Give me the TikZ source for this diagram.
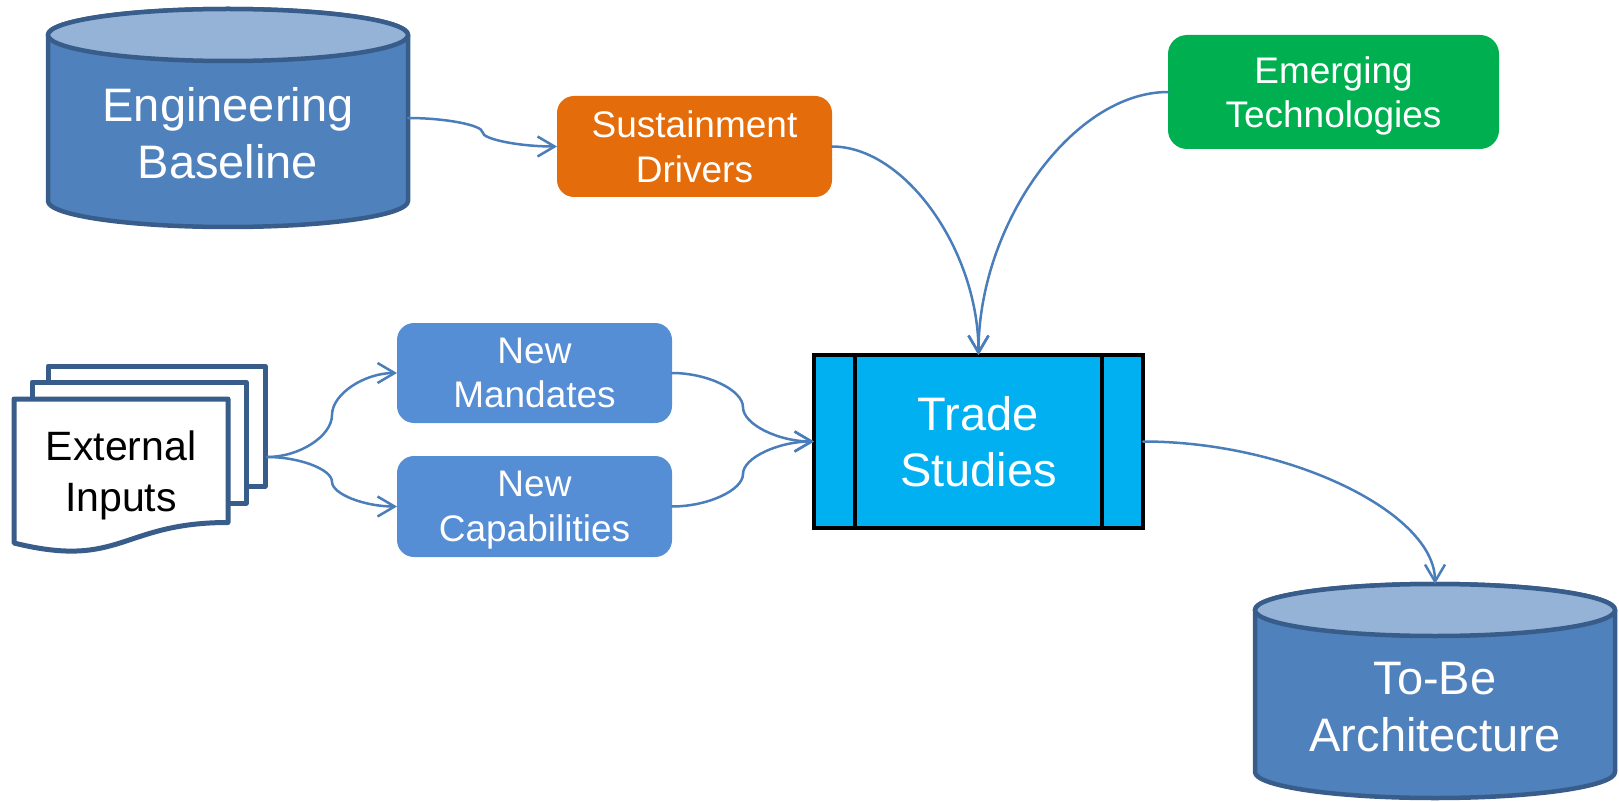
\documentclass[tikz,border=0pt]{standalone}
\usepackage{fontspec}
\setmainfont{Liberation Sans}
\usetikzlibrary{arrows.meta,calc,backgrounds}
\definecolor{cylbody}{HTML}{4F81BD}
\definecolor{cyltop}{HTML}{95B3D7}
\definecolor{cylline}{HTML}{385D8A}
\definecolor{sustc}{HTML}{E46C0A}
\definecolor{emergc}{HTML}{00B050}
\definecolor{newc}{HTML}{558ED5}
\definecolor{tradec}{HTML}{00B0F0}
\definecolor{connc}{HTML}{4A7EBB}
\begin{document}
\begin{tikzpicture}[x=1pt,y=-1pt,
  bigtxt/.style={font=\fontsize{47}{56.5}\selectfont, text=white, align=center, text depth=0pt, inner sep=0pt},
  midtxt/.style={font=\fontsize{37}{44.5}\selectfont, text=white, align=center, text depth=0pt, inner sep=0pt},
  exttxt/.style={font=\fontsize{41}{51}\selectfont, text=black, align=center, text depth=0pt, inner sep=0pt},
  rbox/.style={midtxt, rectangle, minimum width=275pt, outer sep=0pt},
  holder/.style={rectangle, inner sep=0pt, outer sep=0pt},
  cylshape/.style={fill=cylbody, draw=cylline, line width=4.5pt, line join=round},
  cyltopshape/.style={fill=cyltop, draw=cylline, line width=4.5pt},
  pageshape/.style={fill=white, draw=cylline, line width=5pt, line join=round},
  conn/.style={draw=connc, line width=2.5pt, line cap=round, -{Straight Barb[length=17pt,width=20pt]}},
  sbend/.style={to path={let \p1=(\tikztostart), \p2=(\tikztotarget) in
     .. controls ({(3*\x1+\x2)/4},\y1) and ({(\x1+\x2)/2},{(3*\y1+\y2)/4}) .. ({(\x1+\x2)/2},{(\y1+\y2)/2})
     .. controls ({(\x1+\x2)/2},{(\y1+3*\y2)/4}) and ({(\x1+3*\x2)/4},\y2) .. (\tikztotarget)}},
  lbend/.style={to path={let \p1=(\tikztostart), \p2=(\tikztotarget) in
     .. controls ({(\x1+\x2)/2},\y1) and (\x2,{(\y1+\y2)/2}) .. (\tikztotarget)}}
]
\useasboundingbox (0,0) rectangle (1619,802);

% Engineering Baseline cylinder
\node[holder, minimum width=360pt, minimum height=218pt] (eb) at (228,118) {};
\node[bigtxt] (ebt) at (228,133) {Engineering\\Baseline};

% To-Be Architecture cylinder
\node[holder, minimum width=360pt, minimum height=214pt] (tb) at (1435,691) {};
\node[bigtxt] (tbt) at (1435,707) {To-Be\\Architecture};

\begin{scope}[on background layer]
  \path[cylshape] ([yshift=-26pt]eb.north west) -- ([yshift=26pt]eb.south west)
    arc[start angle=180, end angle=360, x radius=180pt, y radius=26pt]
    -- ([yshift=-26pt]eb.north east)
    arc[start angle=0, end angle=180, x radius=180pt, y radius=26pt] -- cycle;
  \path[cyltopshape] ([yshift=-26pt]eb.north) ellipse [x radius=180pt, y radius=26pt];
  \path[cylshape] ([yshift=-26pt]tb.north west) -- ([yshift=26pt]tb.south west)
    arc[start angle=180, end angle=360, x radius=180pt, y radius=26pt]
    -- ([yshift=-26pt]tb.north east)
    arc[start angle=0, end angle=180, x radius=180pt, y radius=26pt] -- cycle;
  \path[cyltopshape] ([yshift=-26pt]tb.north) ellipse [x radius=180pt, y radius=26pt];
  % External Inputs pages
  \path[pageshape] (48,366) rectangle (265,486);
  \path[pageshape] (32,382) rectangle (246,503);
  \path[pageshape] (14,399) -- (228,399) -- (228,522.5)
     .. controls (121,522.5) and (121,569.5) .. (14,543) -- cycle;
\end{scope}

% External Inputs
\node[holder, minimum width=255pt, minimum height=186pt] (ext) at (139.5,457) {};
\node[exttxt] (extt) at (121,471) {External\\Inputs};

% Rounded boxes
\node[rbox, fill=sustc, minimum height=101pt, rounded corners=17pt] (sd) at (694.5,146.5) {Sustainment\\Drivers};
\node[rbox, fill=emergc, minimum width=331pt, minimum height=114pt, rounded corners=19pt] (et) at (1333.5,92) {Emerging\\Technologies};
\node[rbox, fill=newc, minimum height=100pt, rounded corners=17pt] (nm) at (534.5,373) {New\\Mandates};
\node[rbox, fill=newc, minimum height=101pt, rounded corners=17pt] (nc) at (534.5,506.5) {New\\Capabilities};

% Trade Studies (predefined process)
\node[bigtxt, fill=tradec, draw=black, line width=4pt, minimum width=329pt, minimum height=173pt, outer sep=0pt] (ts) at (978.5,441.5) {Trade\\Studies};
\draw[black, line width=4pt] ([xshift=41.1pt]ts.north west) -- ([xshift=41.1pt]ts.south west);
\draw[black, line width=4pt] ([xshift=-41.1pt]ts.north east) -- ([xshift=-41.1pt]ts.south east);

% Connectors
\draw[conn] (eb.east) to[sbend] (sd.west);
\draw[conn] (ext.east) to[sbend] (nm.west);
\draw[conn] (ext.east) to[sbend] (nc.west);
\draw[conn] (nm.east) to[sbend] (ts.west);
\draw[conn] (nc.east) to[sbend] (ts.west);
\draw[conn] (sd.east) to[lbend] (ts.north);
\draw[conn] (et.west) to[lbend] (ts.north);
\draw[conn] (ts.east) to[lbend] (tb.north);
\end{tikzpicture}
\end{document}
